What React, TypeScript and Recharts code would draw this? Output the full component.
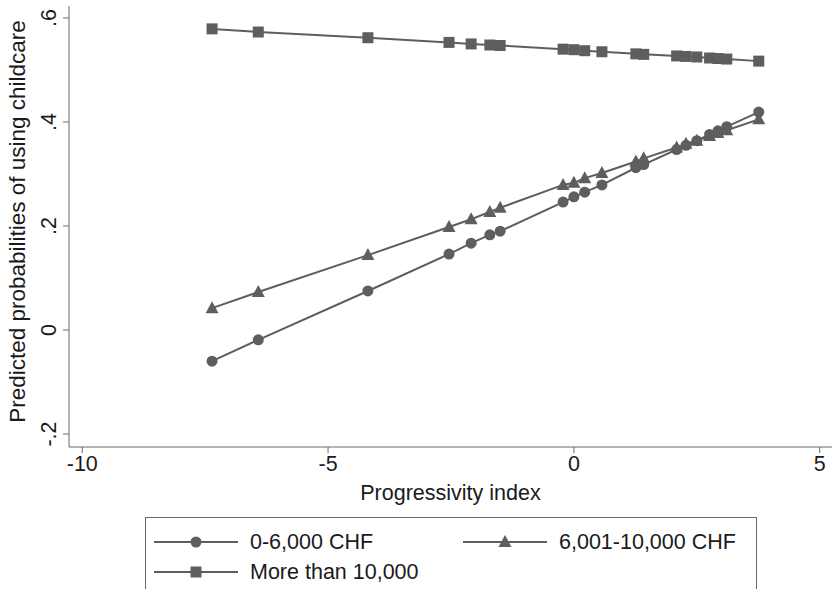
import React from 'react'
import { LineChart, Line, XAxis, YAxis } from 'recharts'

// progressivity index (x) shared by all three groups
const progIndex = [-7.36, -6.42, -4.19, -2.54, -2.09, -1.71, -1.5, -0.22, 0, 0.22, 0.57, 1.26, 1.42, 2.09, 2.28, 2.5, 2.76, 2.93, 3.11, 3.76]

const lowIncome = [-0.06, -0.019, 0.075, 0.146, 0.167, 0.183, 0.19, 0.246, 0.256, 0.265, 0.279, 0.312, 0.318, 0.347, 0.355, 0.364, 0.376, 0.383, 0.391, 0.419]
const midIncome = [0.042, 0.073, 0.144, 0.198, 0.213, 0.227, 0.235, 0.279, 0.283, 0.292, 0.302, 0.324, 0.33, 0.351, 0.358, 0.364, 0.373, 0.379, 0.384, 0.405]
const highIncome = [0.579, 0.573, 0.562, 0.553, 0.55, 0.548, 0.547, 0.54, 0.539, 0.537, 0.535, 0.531, 0.53, 0.527, 0.526, 0.525, 0.523, 0.522, 0.521, 0.517]

const seriesNames = ['0-6,000 CHF', '6,001-10,000 CHF', 'More than 10,000']
const xTicks = [-10, -5, 0, 5]
const yTicks = [-0.2, 0, 0.2, 0.4, 0.6]
const yTickLabels = ['-.2', '0', '.2', '.4', '.6']

const data = progIndex.map((x, i) => ({ x, low: lowIncome[i], mid: midIncome[i], high: highIncome[i] }))

const GRAY = '#5e5e5e'
const AXIS = '#6a6a6a'
const INK = '#1a1a1a'
const FONT = '"Liberation Sans", Arial, sans-serif'
const FS = 21.5

type Shape = 'circle' | 'triangle' | 'square'

function marker(shape: Shape, cx: number, cy: number, key?: string | number) {
  if (shape === 'circle') return <circle key={key} cx={cx} cy={cy} r={5.5} fill={GRAY} />
  if (shape === 'square') return <rect key={key} x={cx - 5.5} y={cy - 5.5} width={11} height={11} fill={GRAY} />
  return <polygon key={key} points={`${cx},${cy - 7} ${cx + 6.5},${cy + 5} ${cx - 6.5},${cy + 5}`} fill={GRAY} />
}

const dotFor = (shape: Shape) => (p: any) => marker(shape, p.cx, p.cy, p.index)

// stata style: tick labels turned on their side
const YTick = (p: any) => {
  const i = yTicks.indexOf(p.payload.value)
  const bx = p.x - 5
  return (
    <text transform={`translate(${bx},${p.y}) rotate(-90)`} textAnchor="middle" fontSize={FS} fill={INK} fontFamily={FONT}>
      {yTickLabels[i]}
    </text>
  )
}

const YTitle = (p: any) => {
  const vb = p.viewBox || { x: 0, y: 6, width: 69, height: 441 }
  const cy = vb.y + vb.height / 2 - 5
  return (
    <text transform={`translate(25,${cy}) rotate(-90)`} textAnchor="middle" fontSize={22.5} fill={INK} fontFamily={FONT}>
      Predicted probabilities of using childcare
    </text>
  )
}

const shapes: Shape[] = ['circle', 'triangle', 'square']

function LegendBox() {
  const item = (i: number, left: number, top: number) => (
    <div key={i} style={{ position: 'absolute', left, top, height: 26, display: 'flex', alignItems: 'center' }}>
      <svg width={84} height={24}>
        <line x1={0} y1={12} x2={84} y2={12} stroke={GRAY} strokeWidth={2} />
        {marker(shapes[i], 42, 12)}
      </svg>
      <span style={{ marginLeft: 12, fontSize: FS, color: INK, fontFamily: FONT }}>{seriesNames[i]}</span>
    </div>
  )
  return (
    <div style={{ position: 'absolute', left: 145, top: 517, width: 612, height: 90, border: `1px solid ${AXIS}`, boxSizing: 'border-box' }}>
      {item(0, 8, 11)}
      {item(1, 317, 11)}
      {item(2, 8, 41)}
    </div>
  )
}

export default function App() {
  return (
    <div style={{ position: 'absolute', left: 0, top: 0, width: 834, height: 589, overflow: 'hidden', background: '#fff' }}>
      <LineChart width={834} height={589} data={data} margin={{ top: 6, right: 2, bottom: 0, left: 0 }}>
        <XAxis
          dataKey="x"
          type="number"
          domain={[-10.27, 5.25]}
          ticks={xTicks}
          height={142}
          tickSize={6}
          tickMargin={3}
          stroke={AXIS}
          tick={{ fontSize: FS, fill: INK, fontFamily: FONT }}
          label={{ value: 'Progressivity index', position: 'insideTop', offset: 38, fontSize: FS, fill: INK, fontFamily: FONT }}
        />
        <YAxis
          type="number"
          domain={[-0.225, 0.623]}
          ticks={yTicks}
          width={69}
          tickSize={6}
          stroke={AXIS}
          tick={<YTick />}
          label={<YTitle />}
        />
        <Line dataKey="low" stroke={GRAY} strokeWidth={2} dot={dotFor('circle')} isAnimationActive={false} />
        <Line dataKey="mid" stroke={GRAY} strokeWidth={2} dot={dotFor('triangle')} isAnimationActive={false} />
        <Line dataKey="high" stroke={GRAY} strokeWidth={2} dot={dotFor('square')} isAnimationActive={false} />
      </LineChart>
      <LegendBox />
    </div>
  )
}
